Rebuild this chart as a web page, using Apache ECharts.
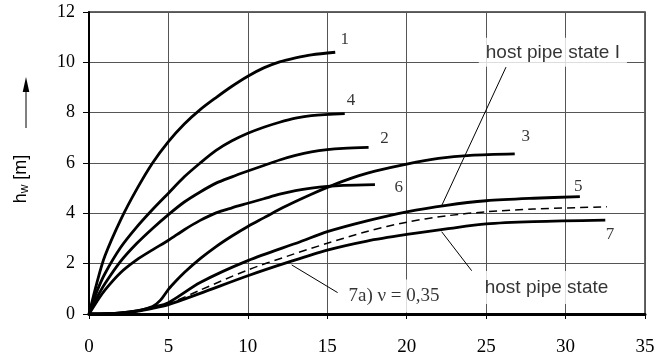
<!DOCTYPE html>
<html>
<head>
<meta charset="utf-8">
<script src="https://cdn.jsdelivr.net/npm/echarts@6/dist/echarts.min.js"></script>
<style>
  html, body { margin: 0; padding: 0; background: #fff; }
  #chart { width: 667px; height: 362px; }
</style>
</head>
<body>
<div id="chart"></div>
<script>
// curve data (x, h_w)
const curve1X = [0, 0.5, 1, 2, 3, 4, 5, 6, 7, 8, 9, 10, 11, 12, 13, 14, 15.5]
const curve1Y = [0, 1.25, 2.3, 3.75, 4.95, 6.0, 6.85, 7.55, 8.12, 8.6, 9.05, 9.45, 9.78, 10.02, 10.18, 10.3, 10.4]
const curve4X = [0, 0.5, 1, 2, 3, 4, 5, 6, 7, 8, 9, 10, 11, 12, 13, 14, 16.1]
const curve4Y = [0, 0.9, 1.6, 2.65, 3.45, 4.15, 4.8, 5.45, 6.0, 6.5, 6.88, 7.18, 7.42, 7.62, 7.78, 7.88, 7.96]
const curve2X = [0, 0.5, 1, 2, 3, 4, 5, 6, 7, 8, 9, 10, 11, 12, 13, 14, 15, 16, 17.6]
const curve2Y = [0, 0.65, 1.2, 2.1, 2.8, 3.4, 3.95, 4.45, 4.85, 5.2, 5.45, 5.68, 5.9, 6.12, 6.3, 6.44, 6.53, 6.58, 6.62]
const curve6X = [0, 0.5, 1, 2, 3, 4, 5, 6, 7, 8, 9, 10, 11, 12, 13, 14, 15, 16, 18]
const curve6Y = [0, 0.5, 0.95, 1.65, 2.15, 2.55, 2.93, 3.35, 3.72, 4.02, 4.22, 4.4, 4.58, 4.76, 4.9, 5.0, 5.07, 5.11, 5.14]
const curve3X = [0, 1, 2, 3, 4, 4.5, 5, 5.5, 6, 7, 8, 9, 10, 11, 12, 13, 14, 15, 16, 17, 18, 20, 22, 24, 26.8]
const curve3Y = [0, 0.01, 0.04, 0.12, 0.3, 0.55, 0.98, 1.33, 1.65, 2.2, 2.68, 3.1, 3.48, 3.82, 4.16, 4.47, 4.76, 5.03, 5.28, 5.5, 5.68, 5.96, 6.18, 6.3, 6.36]
const curve5X = [0, 1, 2, 3, 4, 5, 7, 10, 13.3, 15, 17.5, 20, 22.5, 25, 28, 30.9]
const curve5Y = [0, 0.01, 0.04, 0.12, 0.27, 0.45, 1.25, 2.12, 2.87, 3.27, 3.7, 4.06, 4.32, 4.5, 4.6, 4.66]
const curve7aX = [0, 1, 2, 3, 4, 5, 7, 10, 12.5, 15, 17.5, 20, 22.5, 25, 28, 32.6]
const curve7aY = [0, 0.01, 0.03, 0.1, 0.24, 0.4, 0.95, 1.75, 2.3, 2.81, 3.28, 3.65, 3.9, 4.06, 4.17, 4.26]
const curve7X = [0, 1, 2, 3, 4, 5, 7, 10, 12.5, 15, 17.5, 20, 22.5, 25, 28, 32.5]
const curve7Y = [0, 0.01, 0.03, 0.1, 0.22, 0.37, 0.82, 1.52, 2.05, 2.54, 2.9, 3.16, 3.38, 3.58, 3.67, 3.73]

// curve numbers placed next to the curve ends
const curveNames = ['1', '4', '2', '3', '6', '5', '7']
const curveNameX = [16.1, 16.5, 18.6, 27.5, 19.5, 30.8, 32.8]
const curveNameY = [10.9, 8.5, 6.98, 7.05, 5.03, 5.06, 3.14]

// callouts: text, text position, leader start and end
const noteTexts = ['host pipe state I', 'host pipe state', '7a) ν = 0,35']
const noteX = [29.2, 28.8, 19.2]
const noteY = [10.4, 1.05, 0.72]
const leaderFromX = [26.25, 24.09, 12.76]
const leaderFromY = [9.81, 1.72, 1.95]
const leaderToX = [22.22, 22.2, 15.65]
const leaderToY = [4.33, 3.27, 0.85]

const zip = (xs, ys) => xs.map((x, i) => [x, ys[i]])

const chart = echarts.init(document.getElementById('chart'))

function curve(xs, ys, dashed) {
  return {
    type: 'line',
    data: zip(xs, ys),
    smooth: 0.3,
    symbol: 'none',
    silent: true,
    lineStyle: {
      color: '#000',
      width: dashed ? 1.5 : 2.8,
      type: dashed ? [8, 5] : 'solid'
    },
    z: 3
  }
}

const leaders = leaderFromX.map((x, i) => ({
  type: 'line',
  data: [[x, leaderFromY[i]], [leaderToX[i], leaderToY[i]]],
  symbol: 'none',
  silent: true,
  lineStyle: { color: '#000', width: 1 },
  z: 2
}))

const serif = 'Liberation Serif'
const sans = 'Liberation Sans'

const notePadding = [[5, 7], [7, 6], [7, 5]]
const noteFont = [sans, sans, serif]

const labelPoints = {
  type: 'scatter',
  symbolSize: 1,
  itemStyle: { color: 'rgba(0,0,0,0)' },
  silent: true,
  z: 5,
  data: curveNames.map((n, i) => ({
    name: n,
    value: [curveNameX[i], curveNameY[i]],
    label: { fontFamily: serif, fontSize: 17 }
  })).concat(noteTexts.map((t, i) => ({
    name: t,
    value: [noteX[i], noteY[i]],
    label: {
      fontFamily: noteFont[i],
      fontSize: 19,
      backgroundColor: '#fff',
      padding: notePadding[i]
    }
  }))),
  label: {
    show: true,
    position: 'inside',
    color: '#000',
    formatter: p => p.name
  }
}

chart.setOption({
  animation: false,
  backgroundColor: '#fff',
  grid: {
    left: 89, right: 22, top: 12, bottom: 48,
    show: true,
    borderColor: '#333',
    borderWidth: 1.5
  },
  xAxis: {
    type: 'value',
    min: 0, max: 35, interval: 5,
    axisLine: { show: true, lineStyle: { color: '#000', width: 3 } },
    axisTick: { show: true, length: 5, lineStyle: { color: '#000', width: 1 } },
    axisLabel: { fontFamily: serif, fontSize: 19, color: '#000', margin: 24 },
    splitLine: { show: true, lineStyle: { color: '#555', width: 1 } }
  },
  yAxis: {
    type: 'value',
    min: 0, max: 12, interval: 2,
    axisLine: { show: true, lineStyle: { color: '#000', width: 2 } },
    axisTick: { show: true, length: 6, lineStyle: { color: '#000', width: 1 } },
    axisLabel: { fontFamily: serif, fontSize: 18, color: '#000', margin: 14 },
    splitLine: { show: true, lineStyle: { color: '#555', width: 1 } }
  },
  graphic: [
    {
      type: 'text',
      x: 21, y: 179,
      rotation: Math.PI / 2,
      style: {
        text: '{a|h}{b|w}{a| [m]}',
        align: 'center',
        verticalAlign: 'middle',
        fill: '#000',
        rich: {
          a: { fontFamily: sans, fontSize: 18, fill: '#000' },
          b: { fontFamily: sans, fontSize: 12, fill: '#000', verticalAlign: 'bottom', padding: [8, 0, 0, 0] }
        }
      }
    },
    {
      type: 'line',
      shape: { x1: 26, y1: 128, x2: 26, y2: 88 },
      style: { stroke: '#000', lineWidth: 1 }
    },
    {
      type: 'polygon',
      shape: { points: [[26, 77], [22.7, 92], [29.3, 92]] },
      style: { fill: '#000' }
    }
  ],
  series: [
    curve(curve1X, curve1Y),
    curve(curve4X, curve4Y),
    curve(curve2X, curve2Y),
    curve(curve6X, curve6Y),
    curve(curve3X, curve3Y),
    curve(curve5X, curve5Y),
    curve(curve7aX, curve7aY, true),
    curve(curve7X, curve7Y),
    ...leaders,
    labelPoints
  ]
})
</script>
</body>
</html>
